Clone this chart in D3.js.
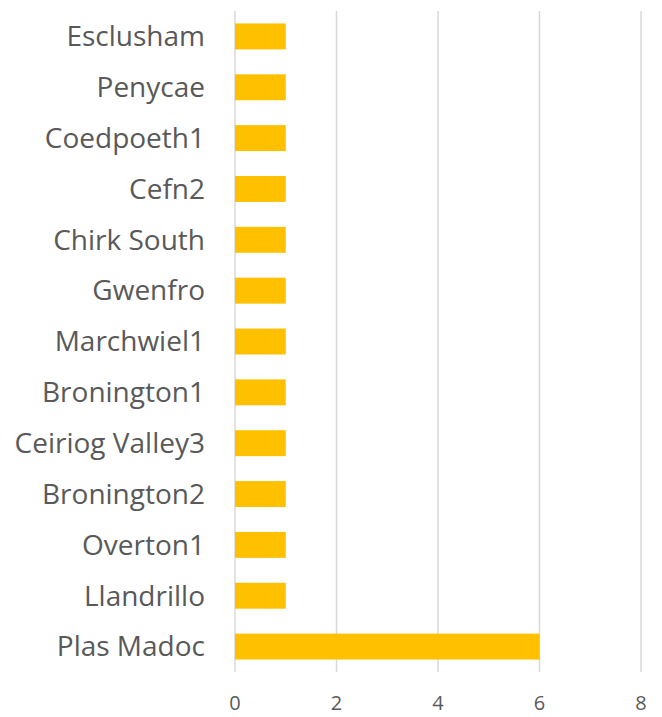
<!DOCTYPE html>
<html>
<head>
<meta charset="utf-8">
<script src="https://cdn.jsdelivr.net/npm/d3@7"></script>
<style>
  body { margin: 0; background: #fff; }
  text { font-family: 'Open Sans', sans-serif; fill: #595959; }
</style>
</head>
<body>
<svg id="chart" width="662" height="717"></svg>
<script>
const wards = ['Esclusham', 'Penycae', 'Coedpoeth1', 'Cefn2', 'Chirk South', 'Gwenfro',
  'Marchwiel1', 'Bronington1', 'Ceiriog Valley3', 'Bronington2', 'Overton1', 'Llandrillo', 'Plas Madoc'];
const counts = [1, 1, 1, 1, 1, 1, 1, 1, 1, 1, 1, 1, 6];
const xTicks = [0, 2, 4, 6, 8];

const svg = d3.select('#chart');
const margin = { top: 11, right: 21, bottom: 45, left: 235 };
const width = 662 - margin.left - margin.right;
const height = 717 - margin.top - margin.bottom;

const g = svg.append('g').attr('transform', `translate(${margin.left},${margin.top})`);

const x = d3.scaleLinear().domain([0, 8]).range([0, width]);
const y = d3.scaleBand().domain(wards).range([0, height]).paddingInner(0.49).paddingOuter(0.245);

// gridlines
g.selectAll('.grid')
  .data(xTicks)
  .enter()
  .append('line')
  .attr('class', 'grid')
  .attr('x1', d => x(d))
  .attr('x2', d => x(d))
  .attr('y1', 0)
  .attr('y2', height)
  .attr('stroke', '#d9d9d9')
  .attr('stroke-width', 1.5);

g.selectAll('.bar')
  .data(wards)
  .enter()
  .append('rect')
  .attr('class', 'bar')
  .attr('x', x(0))
  .attr('y', d => y(d))
  .attr('width', (d, i) => x(counts[i]) - x(0))
  .attr('height', y.bandwidth())
  .attr('fill', '#ffc000');

// axis labels
g.selectAll('.xlab')
  .data(xTicks)
  .enter()
  .append('text')
  .attr('x', d => x(d))
  .attr('y', height + 38)
  .attr('text-anchor', 'middle')
  .style('font-size', '20px')
  .text(d => d);

g.selectAll('.ylab')
  .data(wards)
  .enter()
  .append('text')
  .attr('x', -30)
  .attr('y', d => y(d) + y.bandwidth() / 2)
  .attr('dy', '0.35em')
  .attr('text-anchor', 'end')
  .style('font-size', '28px')
  .text(d => d);
</script>
</body>
</html>
